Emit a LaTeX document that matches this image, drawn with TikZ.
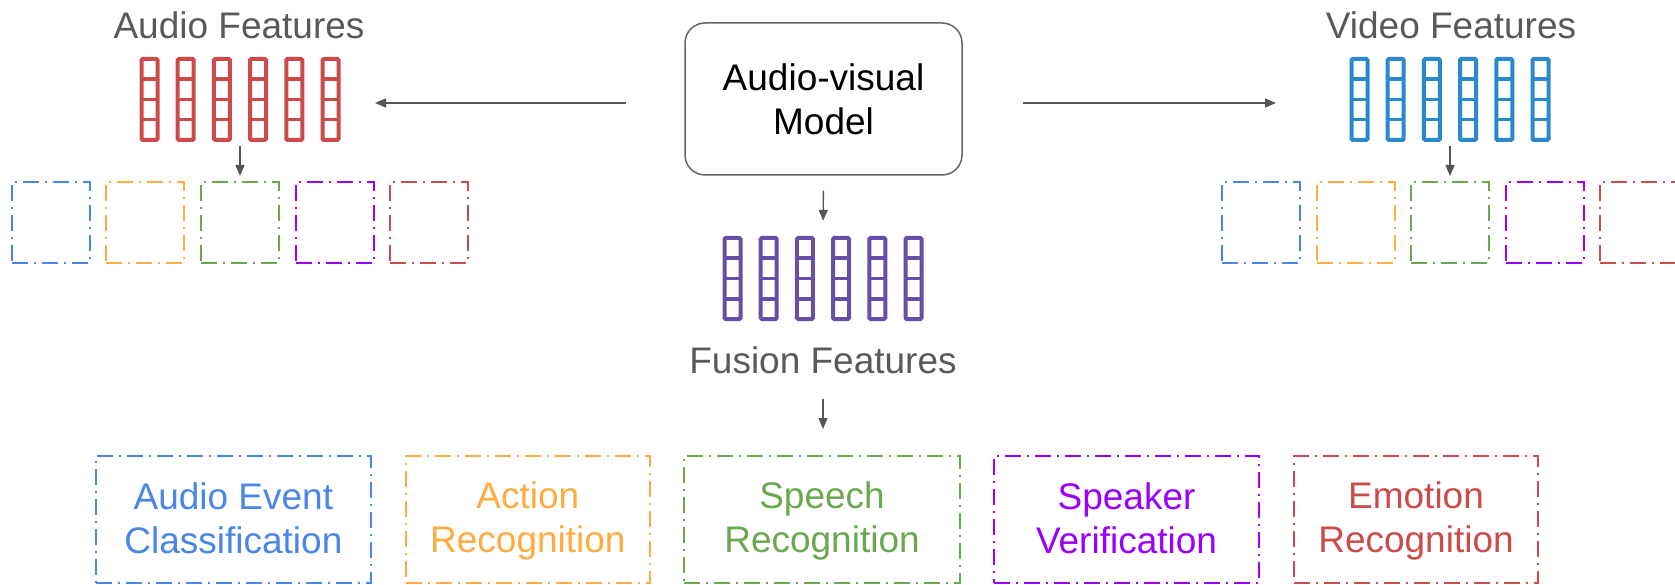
\documentclass[tikz,border=0pt]{standalone}
\usepackage{fontspec}
\setmainfont{Liberation Sans}
\usetikzlibrary{arrows.meta}

\definecolor{txtgray}{HTML}{595959}
\definecolor{arrowgray}{HTML}{555555}
\definecolor{boxgray}{HTML}{666666}
\definecolor{featred}{HTML}{CC4A4A}
\definecolor{featblue}{HTML}{2A88CC}
\definecolor{featpurple}{HTML}{674EA7}
\definecolor{tblue}{HTML}{4A86E8}
\definecolor{torange}{HTML}{FFAB40}
\definecolor{tgreen}{HTML}{6AA84F}
\definecolor{tpurple}{HTML}{9900FF}
\definecolor{tred}{HTML}{CC4A4A}

% struts for two-line labels
\newcommand\ls{\rule[-6pt]{0pt}{36pt}}
\newcommand\lm{\rule[-3pt]{0pt}{33pt}}

% six feature columns of four cells: name, centre x, top y, colour
\newcommand\featgroup[4]{%
  \foreach \k in {0,...,5}{
    \pgfmathsetmacro\cx{#2+(\k-2.5)*36.2}
    \draw[#4, line width=4pt, rounded corners=1.2pt] (\cx-8,#3) rectangle (\cx+8,#3+81);
    \foreach \r in {1,2,3}
      \draw[#4, line width=3.5pt] (\cx-8,#3+20.25*\r) -- (\cx+8,#3+20.25*\r);
  }
  \node[inner sep=0pt, minimum width=201pt, minimum height=85pt] (#1) at (#2,#3+40.5) {};
}

\tikzset{
  big/.style={font=\fontsize{37}{44}\selectfont},
  arr/.style={draw=arrowgray, line width=1.4pt, -{Triangle[length=11pt,width=9pt]}},
  dashdot/.style={dash pattern=on 16pt off 6pt on 2pt off 6pt, line width=2pt},
  slot/.style={draw=#1, dashdot, minimum width=78pt, minimum height=81pt, inner sep=0pt},
  task/.style={draw=#1, text=#1, dashdot, big, align=center, minimum height=127pt, inner sep=0pt},
  title/.style={big, text=txtgray, anchor=base, inner sep=0pt},
}

\begin{document}
\begin{tikzpicture}[x=1pt, y=-1pt]
\useasboundingbox (0,0) rectangle (1675,585);
\clip (0,0) rectangle (1675,585);

% central model
\node[draw=boxgray, line width=1.5pt, rounded corners=20pt, minimum width=277pt,
      minimum height=152pt, big, align=center, inner sep=0pt] (model) at (823.5,99)
      {\lm Audio-visual\\\lm Model};

% feature stacks
\featgroup{afeat}{240}{59}{featred}
\featgroup{vfeat}{1450}{59}{featblue}
\featgroup{ffeat}{823}{238}{featpurple}

% titles
\node[title] (atitle) at (239,39) {Audio Features};
\node[title] (vtitle) at (1451,39) {Video Features};
\node[title] (ftitle) at (823,373) {Fusion Features};

% empty task slots under audio and video features
\foreach \c [count=\i] in {tblue,torange,tgreen,tpurple,tred}{
  \node[slot=\c] (aslot\i) at ({50.6+94.7*(\i-1)},222.5) {};
  \node[slot=\c] (vslot\i) at ({1261+94.5*(\i-1)},222.5) {};
}

% downstream tasks
\node[task=tblue,   minimum width=275pt] (task1) at (233.4,519.5) {\ls Audio Event\\\ls Classification};
\node[task=torange, minimum width=244pt] (task2) at (527.9,519.5) {\ls Action\\\ls Recognition};
\node[task=tgreen,  minimum width=276pt] (task3) at (822,519.5)   {\ls Speech\\\ls Recognition};
\node[task=tpurple, minimum width=265pt] (task4) at (1126.5,519.5) {\ls Speaker\\\ls Verification};
\node[task=tred,    minimum width=244pt] (task5) at (1416,519.5)  {\ls Emotion\\\ls Recognition};

% connectors
\coordinate (lstart) at (626,103);
\coordinate (lend) at (375,103);
\coordinate (rstart) at (1023,103);
\coordinate (rend) at (1276,103);
\draw[arr] (lstart) -- (lend);
\draw[arr] (rstart) -- (rend);
\draw[arr, shorten <=4pt, shorten >=5pt] (afeat.south) -- (aslot3.north);
\draw[arr, shorten <=4pt, shorten >=5pt] (vfeat.south) -- (vslot3.north);
\draw[arr, shorten <=15pt, shorten >=15pt] (model.south) -- (ffeat.north);
\draw[arr, shorten <=25pt, shorten >=26pt] (ftitle.south) -- (ftitle.south |- task3.north);
\end{tikzpicture}
\end{document}
